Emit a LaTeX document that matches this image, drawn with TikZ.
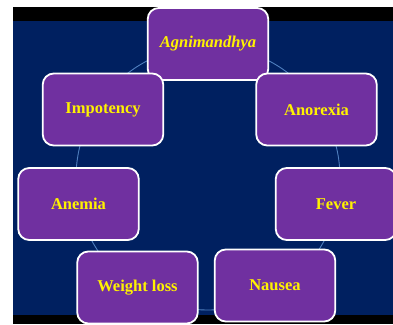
\documentclass[tikz,border=0pt]{standalone}
\usepackage{fontspec}
\setmainfont{Liberation Serif}
\definecolor{slidenavy}{HTML}{002060}
\definecolor{boxpurple}{HTML}{7030A0}
\definecolor{ringblue}{HTML}{4F7FBF}

\begin{document}
\begin{tikzpicture}[x=1pt, y=-1pt,
        symptom/.style={draw=white, line width=1.8pt, fill=boxpurple,
          rounded corners=11pt, minimum width=120.5pt, minimum height=72pt,
          inner sep=0pt, text=yellow,
          font=\fontsize{16.5}{19}\selectfont\bfseries}]
        \useasboundingbox (0, 0) rectangle (393, 324);
        \fill[white] (0, 0) rectangle (393, 324);
        \fill[black] (13, 7) rectangle (393, 324);
        \fill[slidenavy] (13, 21) rectangle (393, 315);
        \coordinate (ring) at (208, 178);
        \draw[ringblue, line width=0.9pt] (ring) circle (132pt);
        \node[symptom, font=\fontsize{16.5}{19}\selectfont\bfseries\itshape]
        (agni) at (208, 44) {Agnimandhya};
        \node[symptom] (anorexia) at (316.5, 109.5) {Anorexia};
        \node[symptom] (fever) at (336, 204) {Fever};
        \node[symptom] (nausea) at (275, 285.5) {Nausea};
        \node[symptom] (weight) at (137.5, 287.5) {Weight loss};
        \node[symptom] (anemia) at (78.5, 204) {Anemia};
        \node[symptom] (impotency) at (103, 109.5) {Impotency};
      \end{tikzpicture}
\end{document}
